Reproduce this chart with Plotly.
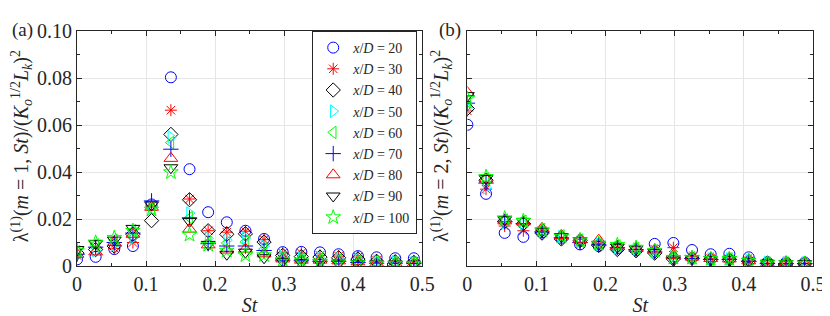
import plotly.graph_objects as go

St = [0, 0.027, 0.054, 0.081, 0.108, 0.136, 0.163, 0.190, 0.217, 0.244,
      0.271, 0.298, 0.325, 0.352, 0.379, 0.407, 0.434, 0.461, 0.488]

series_names = ["20", "30", "40", "50", "60", "70", "80", "90", "100"]

# panel (a): m = 1
m1_xD20 = [0.0028, 0.0039, 0.0072, 0.0085, 0.0262, 0.0803, 0.0412, 0.0229, 0.0186, 0.0150, 0.0115, 0.0059, 0.0060, 0.0058, 0.0050, 0.0042, 0.0037, 0.0033, 0.0033]
m1_xD30 = [0.0045, 0.0080, 0.0075, 0.0100, 0.0255, 0.0663, 0.0285, 0.0150, 0.0144, 0.0148, 0.0112, 0.0055, 0.0055, 0.0045, 0.0042, 0.0038, 0.0025, 0.0022, 0.0020]
m1_xD40 = [0.0055, 0.0070, 0.0085, 0.0135, 0.0193, 0.0560, 0.0282, 0.0150, 0.0135, 0.0137, 0.0102, 0.0045, 0.0040, 0.0038, 0.0035, 0.0030, 0.0020, 0.0018, 0.0015]
m1_xD50 = [0.0042, 0.0065, 0.0090, 0.0120, 0.0250, 0.0549, 0.0225, 0.0118, 0.0110, 0.0120, 0.0085, 0.0040, 0.0035, 0.0033, 0.0030, 0.0025, 0.0020, 0.0018, 0.0015]
m1_xD60 = [0.0060, 0.0090, 0.0110, 0.0150, 0.0245, 0.0525, 0.0205, 0.0100, 0.0098, 0.0103, 0.0072, 0.0035, 0.0030, 0.0030, 0.0025, 0.0020, 0.0015, 0.0015, 0.0012]
m1_xD70 = [0.0050, 0.0080, 0.0100, 0.0140, 0.0277, 0.0497, 0.0205, 0.0095, 0.0085, 0.0085, 0.0066, 0.0025, 0.0022, 0.0020, 0.0020, 0.0015, 0.0012, 0.0012, 0.0010]
m1_xD80 = [0.0050, 0.0060, 0.0100, 0.0135, 0.0250, 0.0458, 0.0157, 0.0090, 0.0068, 0.0072, 0.0052, 0.0030, 0.0025, 0.0025, 0.0022, 0.0018, 0.0012, 0.0012, 0.0010]
m1_xD90 = [0.0070, 0.0095, 0.0110, 0.0160, 0.0260, 0.0418, 0.0190, 0.0092, 0.0050, 0.0059, 0.0035, 0.0020, 0.0015, 0.0015, 0.0012, 0.0010, 0.0008, 0.0008, 0.0008]
m1_xD100 = [0.0065, 0.0100, 0.0120, 0.0150, 0.0240, 0.0399, 0.0133, 0.0090, 0.0065, 0.0046, 0.0046, 0.0025, 0.0020, 0.0018, 0.0015, 0.0012, 0.0010, 0.0010, 0.0008]

# panel (b): m = 2
m2_xD20 = [0.0601, 0.0307, 0.0141, 0.0124, 0.0144, 0.0120, 0.0092, 0.0085, 0.0075, 0.0068, 0.0094, 0.0098, 0.0068, 0.0050, 0.0052, 0.0037, 0.0016, 0.0015, 0.0015]
m2_xD30 = [0.0660, 0.0327, 0.0170, 0.0150, 0.0150, 0.0118, 0.0095, 0.0090, 0.0080, 0.0070, 0.0072, 0.0078, 0.0040, 0.0032, 0.0030, 0.0022, 0.0012, 0.0012, 0.0010]
m2_xD40 = [0.0670, 0.0365, 0.0190, 0.0180, 0.0140, 0.0115, 0.0108, 0.0088, 0.0070, 0.0065, 0.0055, 0.0030, 0.0033, 0.0028, 0.0028, 0.0020, 0.0012, 0.0010, 0.0010]
m2_xD50 = [0.0673, 0.0333, 0.0184, 0.0180, 0.0148, 0.0125, 0.0105, 0.0092, 0.0078, 0.0072, 0.0060, 0.0040, 0.0035, 0.0030, 0.0030, 0.0022, 0.0015, 0.0013, 0.0012]
m2_xD60 = [0.0700, 0.0370, 0.0195, 0.0190, 0.0155, 0.0128, 0.0110, 0.0095, 0.0085, 0.0075, 0.0065, 0.0040, 0.0035, 0.0030, 0.0030, 0.0022, 0.0012, 0.0012, 0.0010]
m2_xD70 = [0.0693, 0.0353, 0.0188, 0.0180, 0.0145, 0.0120, 0.0100, 0.0090, 0.0078, 0.0070, 0.0060, 0.0035, 0.0032, 0.0028, 0.0028, 0.0020, 0.0010, 0.0010, 0.0010]
m2_xD80 = [0.0738, 0.0370, 0.0192, 0.0188, 0.0160, 0.0130, 0.0112, 0.0110, 0.0085, 0.0075, 0.0068, 0.0045, 0.0038, 0.0032, 0.0030, 0.0022, 0.0012, 0.0012, 0.0010]
m2_xD90 = [0.0725, 0.0372, 0.0197, 0.0190, 0.0148, 0.0125, 0.0108, 0.0092, 0.0080, 0.0072, 0.0058, 0.0030, 0.0032, 0.0028, 0.0028, 0.0020, 0.0012, 0.0010, 0.0010]
m2_xD100 = [0.0712, 0.0379, 0.0203, 0.0192, 0.0152, 0.0125, 0.0110, 0.0095, 0.0090, 0.0078, 0.0065, 0.0035, 0.0035, 0.0030, 0.0030, 0.0022, 0.0012, 0.0012, 0.0010]

x_tickvals = [0, 0.1, 0.2, 0.3, 0.4, 0.5]
x_ticktext = ["0", "0.1", "0.2", "0.3", "0.4", "0.5"]
y_tickvals = [0, 0.02, 0.04, 0.06, 0.08, 0.10]
y_ticktext = ["0", "0.02", "0.04", "0.06", "0.08", "0.10"]

m1 = [m1_xD20, m1_xD30, m1_xD40, m1_xD50, m1_xD60, m1_xD70, m1_xD80, m1_xD90, m1_xD100]
m2 = [m2_xD20, m2_xD30, m2_xD40, m2_xD50, m2_xD60, m2_xD70, m2_xD80, m2_xD90, m2_xD100]

symbols = ["circle-open", "asterisk-open", "diamond-open", "triangle-right-open",
           "triangle-left-open", "cross-thin-open", "triangle-up-open",
           "triangle-down-open", "star-open"]
colors = ["#0000ff", "#ff0000", "#000000", "#00ffff", "#00ff00",
          "#0000ff", "#ff0000", "#000000", "#00ff00"]
sizes = [11, 10, 11, 11, 11, 11, 12, 12, 11]

FONT = "'Liberation Serif', 'Times New Roman', 'DejaVu Serif', serif"

fig = go.Figure()
for i in range(9):
    mk = dict(symbol=symbols[i], size=sizes[i], color=colors[i],
              line=dict(color=colors[i], width=1))
    fig.add_trace(go.Scatter(x=St, y=m1[i], mode="markers", marker=mk,
                             name="<i>x</i>/<i>D</i> = " + series_names[i],
                             xaxis="x", yaxis="y", showlegend=True))
for i in range(9):
    mk = dict(symbol=symbols[i], size=sizes[i], color=colors[i],
              line=dict(color=colors[i], width=1))
    fig.add_trace(go.Scatter(x=St, y=m2[i], mode="markers", marker=mk,
                             name="<i>x</i>/<i>D</i> = " + series_names[i],
                             xaxis="x2", yaxis="y2", showlegend=False))

L, R, T, B = 69, 12.5, 15, 46
W, H = 830, 316
pw = W - L - R
ph = H - T - B
d1 = [0, (420 - L) / pw]
d2 = [(466 - L) / pw, 1]

axcommon = dict(showline=True, linecolor="#262626", linewidth=1, mirror="ticks",
                ticks="inside", ticklen=5, tickcolor="#262626",
                showgrid=True, gridcolor="#e6e6e6", gridwidth=1, zeroline=False,
                tickfont=dict(family=FONT, size=20, color="#262626"))

xax = dict(axcommon, range=[0, 0.5], tickvals=x_tickvals, ticktext=x_ticktext,
           minor=dict(ticks="inside", ticklen=3, tickcolor="#262626", dtick=0.05, tick0=0, showgrid=False),
           title=dict(text="<i>St</i>", font=dict(family=FONT, size=20, color="#262626"), standoff=3))
yax = dict(axcommon, range=[0, 0.10], tickvals=y_tickvals,
           minor=dict(ticks="inside", ticklen=3, tickcolor="#262626", dtick=0.01, tick0=0, showgrid=False))

ylab1 = "λ<sup>(1)</sup>(<i>m</i> = 1, <i>St</i>)/(<i>K</i><sub><i>o</i></sub><sup>1/2</sup><i>L</i><sub><i>k</i></sub>)<sup>2</sup>"
ylab2 = "λ<sup>(1)</sup>(<i>m</i> = 2, <i>St</i>)/(<i>K</i><sub><i>o</i></sub><sup>1/2</sup><i>L</i><sub><i>k</i></sub>)<sup>2</sup>"

fig.update_layout(
    width=W, height=H,
    margin=dict(l=L, r=R, t=T, b=B),
    paper_bgcolor="white", plot_bgcolor="white",
    font=dict(family=FONT, color="#262626"),
    xaxis=dict(xax, domain=d1, anchor="y"),
    yaxis=dict(yax, domain=[0, 1], anchor="x", ticktext=y_ticktext),
    xaxis2=dict(xax, domain=d2, anchor="y2"),
    yaxis2=dict(yax, domain=[0, 1], anchor="x2", showticklabels=False),
    legend=dict(x=(415 - L) / pw, xanchor="right", y=1.0, yanchor="top",
                bgcolor="white", bordercolor="#262626", borderwidth=1,
                font=dict(family=FONT, size=14, color="#262626"),
                tracegroupgap=0, itemwidth=30),
    annotations=[
        dict(text="(a)", xref="paper", yref="paper", x=(1 - L) / pw, y=(270 - 0) / ph,
             xanchor="left", yanchor="top", showarrow=False,
             font=dict(family=FONT, size=19, color="#262626")),
        dict(text="(b)", xref="paper", yref="paper", x=(435 - L) / pw, y=(270 - 0) / ph,
             xanchor="left", yanchor="top", showarrow=False,
             font=dict(family=FONT, size=19, color="#262626")),
        dict(text=ylab1, xref="paper", yref="paper", x=(13 - L) / pw, y=(270 - 140) / ph,
             xanchor="center", yanchor="middle", textangle=-90, showarrow=False,
             font=dict(family=FONT, size=20, color="#262626")),
        dict(text=ylab2, xref="paper", yref="paper", x=(440 - L) / pw, y=(270 - 140) / ph,
             xanchor="center", yanchor="middle", textangle=-90, showarrow=False,
             font=dict(family=FONT, size=20, color="#262626")),
    ],
)

fig.write_html("out.html")
